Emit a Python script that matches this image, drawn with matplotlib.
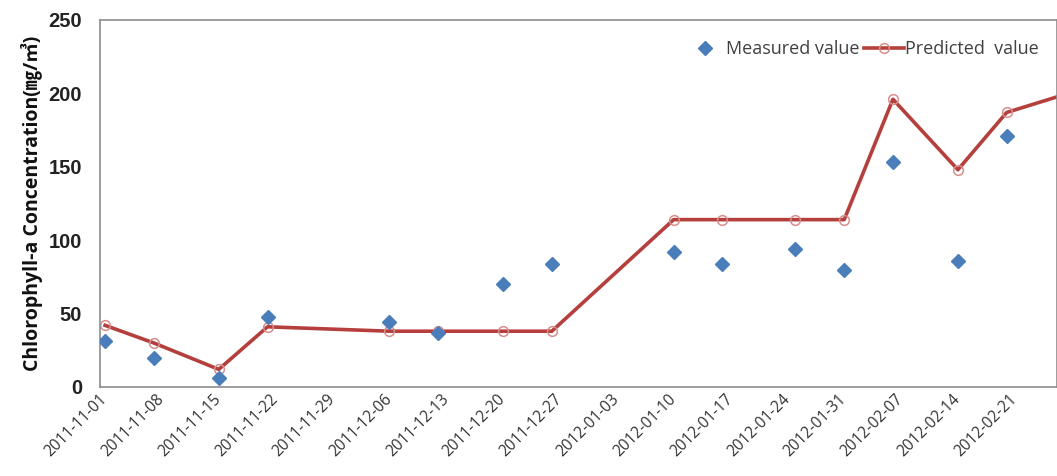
import matplotlib
matplotlib.use("Agg")
import matplotlib.pyplot as plt
import matplotlib.dates as mdates
import numpy as np
import pandas as pd

# sampling dates and chlorophyll-a values (mg/m3)
dates = ["2011-11-01", "2011-11-07", "2011-11-15", "2011-11-21", "2011-12-06",
         "2011-12-12", "2011-12-20", "2011-12-26", "2012-01-10", "2012-01-16",
         "2012-01-25", "2012-01-31", "2012-02-06", "2012-02-14", "2012-02-20",
         "2012-02-27"]
measured = [31, 20, 6, 48, 44, 37, 70, 84, 92, 84, 94, 80, 153, 86, 171, np.nan]
predicted = [42, 30, 12, 41, 38, 38, 38, 38, 114, 114, 114, 114, 196, 148, 187, 199]

tick_dates = pd.date_range("2011-11-01", "2012-02-21", freq="7D")
y_ticks = [0, 50, 100, 150, 200, 250]

x = pd.to_datetime(dates)

fig = plt.figure(figsize=(10.57, 4.76), dpi=100)
ax = fig.add_axes([0.0946, 0.187, 0.9054, 0.771])

blue = "#4a7ebb"
red = "#b53f3c"

ax.plot(x, predicted, color=red, lw=2.6, marker="o", ms=7,
        mfc="none", mec="#d78f8d", mew=1.1, label="Predicted  value", zorder=2)
ax.plot(x, measured, ls="none", marker="D", ms=7, color=blue,
        label="Measured value", zorder=3)

ax.set_yticks(y_ticks)
ax.set_xticks(tick_dates)
ax.xaxis.set_major_formatter(mdates.DateFormatter("%Y-%m-%d"))
# set limits after the ticks so the view is not widened
ax.set_xlim(pd.Timestamp("2011-11-01") - pd.Timedelta(hours=15),
            pd.Timestamp("2011-11-01") + pd.Timedelta(days=117.2))
ax.set_ylim(0, 250)

for s in ax.spines.values():
    s.set_color("#8c8c8c")
    s.set_linewidth(1.2)
ax.tick_params(length=0)
ax.tick_params(axis="y", pad=13)
ax.tick_params(axis="x", pad=7)

for lab in ax.get_yticklabels():
    lab.set_fontfamily("Liberation Sans")
    lab.set_fontweight("bold")
    lab.set_fontsize(14.5)
    lab.set_color("#222222")
for lab in ax.get_xticklabels():
    lab.set_rotation(45)
    lab.set_ha("right")
    lab.set_va("center")
    lab.set_rotation_mode("anchor")
    lab.set_fontfamily("Open Sans")
    lab.set_fontsize(11.2)
    lab.set_color("#333333")

ax.set_ylabel("Chlorophyll-a Concentration(\u338e/\u33a5)",
              family=["Open Sans", "Noto Sans CJK KR"], fontweight="bold",
              fontsize=14, color="#111111", labelpad=4)

handles, labels = ax.get_legend_handles_labels()
leg = ax.legend(handles[::-1], labels[::-1], loc="upper right",
                bbox_to_anchor=(0.998, 0.99), ncol=2, frameon=False,
                prop={"family": "Open Sans", "size": 13}, handlelength=2.2,
                handletextpad=0.05, columnspacing=0.3)
for t in leg.get_texts():
    t.set_color("#404040")

fig.savefig("out.png", dpi=100)
